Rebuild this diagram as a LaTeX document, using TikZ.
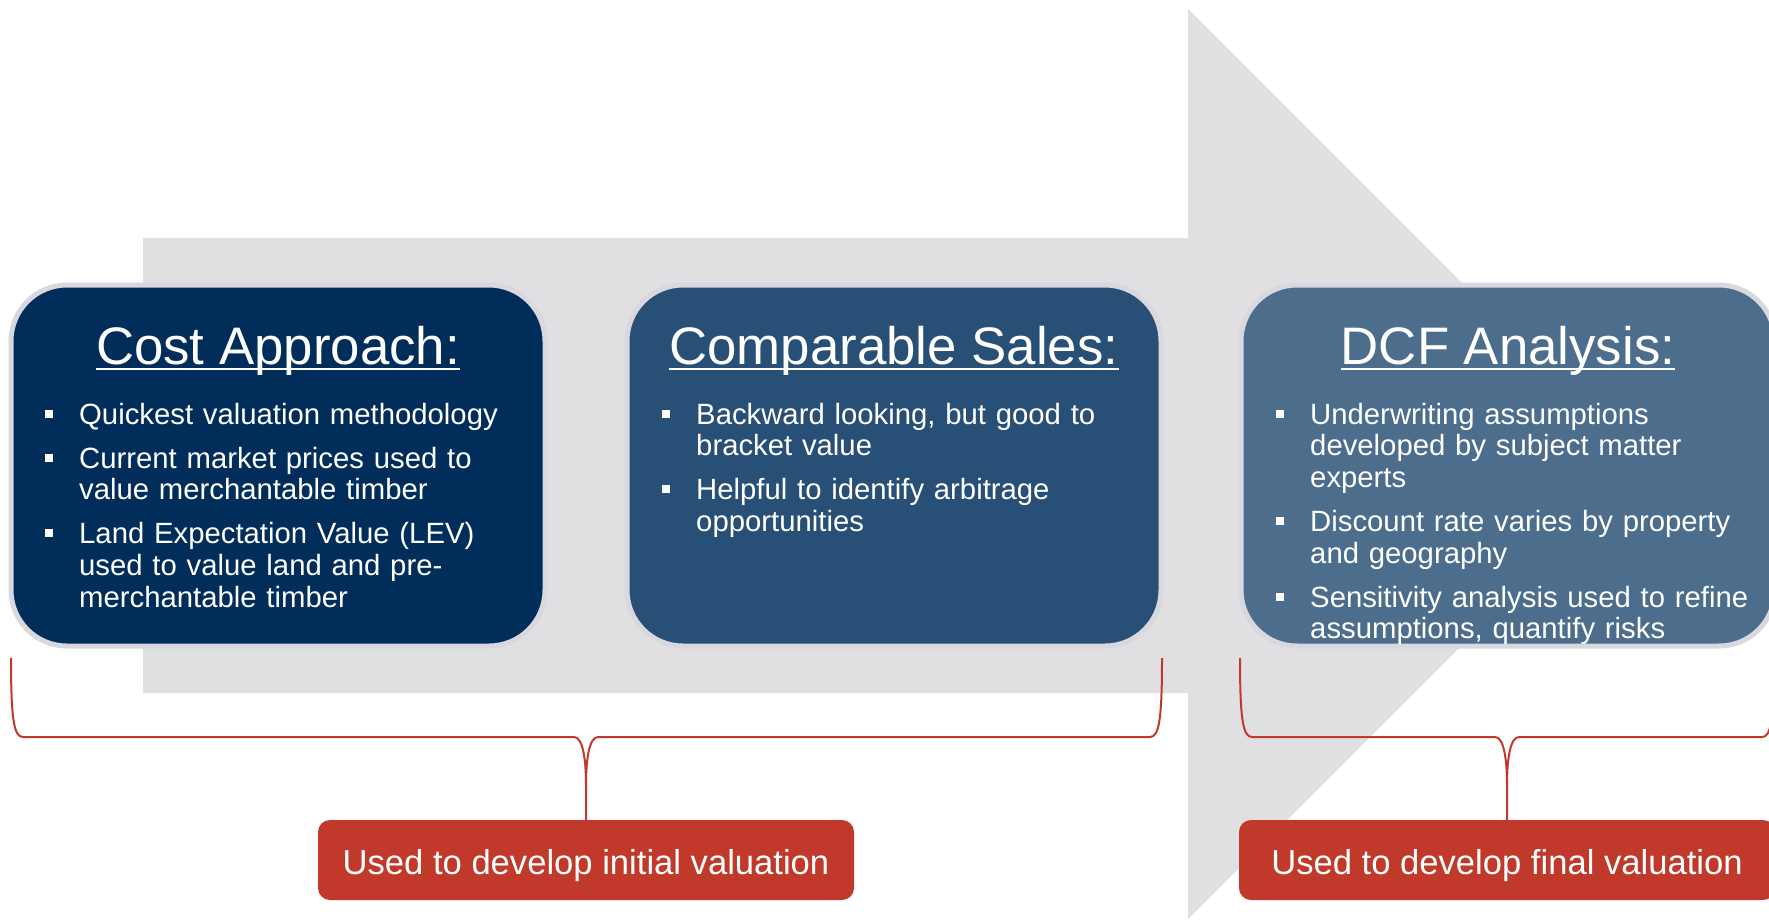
\documentclass[tikz,border=0pt]{standalone}
\usepackage{fontspec}
\setmainfont{Liberation Sans}
\usetikzlibrary{positioning, calc}

\definecolor{navy}{HTML}{002D5A}
\definecolor{steel}{HTML}{284F75}
\definecolor{slate}{HTML}{4C6D8C}
\definecolor{brick}{HTML}{C0392B}
\definecolor{arrowgrey}{HTML}{E0E0E2}
\definecolor{ring}{HTML}{D8D8DE}

\newcommand{\bul}[1]{\par\hangindent=34pt\hangafter=1\noindent\strut\makebox[34pt][l]{\rule[6.5pt]{8pt}{8pt}}#1\par}

\begin{document}
\begin{tikzpicture}[x=1pt, y=-1pt,
  box/.style={rounded corners=56pt, draw=ring, line width=5pt, minimum width=534pt, minimum height=361pt, inner sep=0pt},
  ttl/.style={anchor=base, inner sep=0pt, text=white, font=\fontsize{52.8}{60}\selectfont},
  bullets/.style={anchor=north west, inner sep=0pt, text=white, text width=495pt, font=\fontsize{29.3}{31.6}\selectfont, execute at begin node={\raggedright\setlength{\parskip}{12.4pt}}},
  tagbox/.style={fill=brick, rounded corners=12pt, minimum width=536pt, minimum height=80pt, inner sep=0pt, text height=28pt, text depth=0pt, text=white, font=\fontsize{34.6}{40}\selectfont},
  brace line/.style={draw=brick, line width=2pt}]

    \useasboundingbox (0,0) rectangle (1769,919);
    \clip (0,0) rectangle (1769,919);

    % big arrow
    \fill[arrowgrey] (143,238) -- (1188,238) -- (1188,9) -- (1643,464) -- (1188,919) -- (1188,693) -- (143,693) -- cycle;

    \node[box, fill=navy] (cost) at (278,465.5) {};
    \node[ttl] (cost-t) at (278,364) {Cost Approach:};
    \draw[white, line width=2.5pt] ([yshift=-5pt]cost-t.base west) -- ([yshift=-5pt]cost-t.base east);
    \node[bullets] (cost-b) at (45,380) {%
      \bul{Quickest valuation methodology}
      \bul{Current market prices used to\newline value merchantable timber}
      \bul{Land Expectation Value (LEV)\newline used to value land and pre-\newline merchantable timber}};

    \node[box, fill=steel] (comp) at (894,465.5) {};
    \node[ttl] (comp-t) at (894,364) {Comparable Sales:};
    \draw[white, line width=2.5pt] ([yshift=-5pt]comp-t.base west) -- ([yshift=-5pt]comp-t.base east);
    \node[bullets] (comp-b) at (662,380) {%
      \bul{Backward looking, but good to\newline bracket value}
      \bul{Helpful to identify arbitrage\newline opportunities}};

    \node[box, fill=slate] (dcf) at (1508,465.5) {};
    \node[ttl] (dcf-t) at (1508,364) {DCF Analysis:};
    \draw[white, line width=2.5pt] ([yshift=-5pt]dcf-t.base west) -- ([yshift=-5pt]dcf-t.base east);
    \node[bullets] (dcf-b) at (1276,380) {%
      \bul{Underwriting assumptions\newline developed by subject matter\newline experts}
      \bul{Discount rate varies by property\newline and geography}
      \bul{Sensitivity analysis used to refine\newline assumptions, quantify risks}};

    \node[tagbox] (init) at (586,860) {Used to develop initial valuation};
    \node[tagbox] (final) at (1507,860) {Used to develop final valuation};

    % braces
    \coordinate (cost-end) at (11,658);
    \coordinate (comp-end) at (1162,658);
    \coordinate (dcf-end) at (1240,658);
    \coordinate (edge-end) at (1774,658);
    \coordinate (init-tip) at ($(init.north)+(0,-35)$);
    \coordinate (final-tip) at ($(final.north)+(0,-35)$);
    \draw[brace line] (cost-end) .. controls (11,720) and (14,737) .. (23,737) -- (574,737) .. controls (583,737) and (586,760) .. (init-tip) -- (init.north);
    \draw[brace line] (comp-end) .. controls (1162,720) and (1159,737) .. (1150,737) -- (598,737) .. controls (589,737) and (586,760) .. (init-tip);
    \draw[brace line] (dcf-end) .. controls (1240,720) and (1243,737) .. (1252,737) -- (1495,737) .. controls (1504,737) and (1507,760) .. (final-tip) -- (final.north);
    \draw[brace line] (edge-end) .. controls (1774,720) and (1771,737) .. (1762,737) -- (1519,737) .. controls (1510,737) and (1507,760) .. (final-tip);
\end{tikzpicture}
\end{document}
